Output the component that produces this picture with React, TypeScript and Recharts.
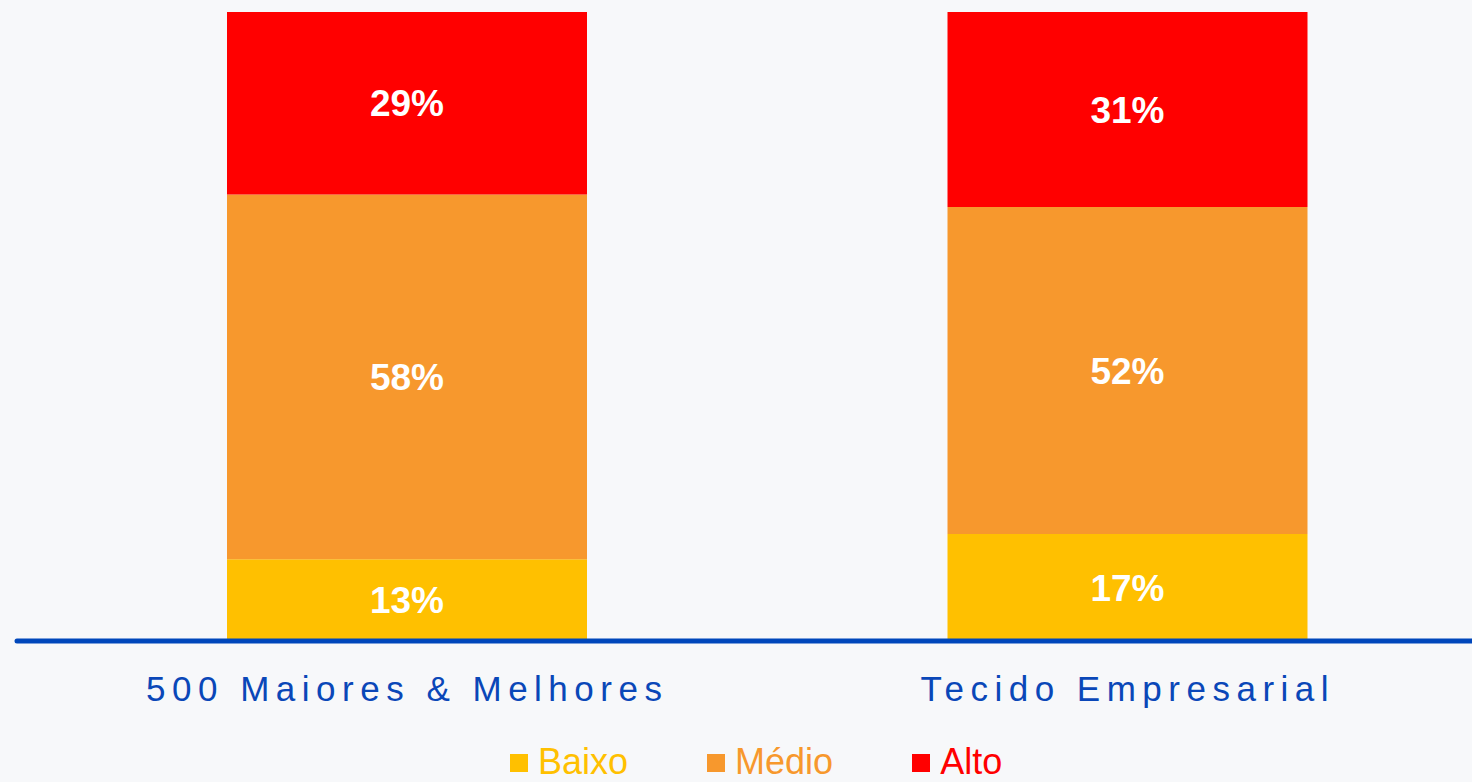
import { BarChart, Bar, XAxis, YAxis, LabelList, Legend } from 'recharts'

const categories = ['500 Maiores & Melhores', 'Tecido Empresarial']
const baixo = [13, 17]
const medio = [58, 52]
const alto = [29, 31]
const seriesNames = ['Baixo', 'Médio', 'Alto']

const data = categories.map((name, i) => ({
  name,
  baixo: baixo[i],
  medio: medio[i],
  alto: alto[i],
}))

const FONT = '"Liberation Sans", Arial, sans-serif'
const BLUE = '#0a47b8'
const BG = '#f7f8fa'

if (typeof document !== 'undefined') {
  document.body.style.margin = '0'
  document.body.style.background = BG
}

function CatTick(props: any) {
  const { x, y, payload } = props
  return (
    <text
      x={x}
      y={y}
      dy={52}
      textAnchor="middle"
      fill={BLUE}
      fontSize={35}
      letterSpacing={6.5}
      fontFamily={FONT}
    >
      {payload.value}
    </text>
  )
}

function LegendBox(props: any) {
  const items = [...(props.payload || [])].sort(
    (a: any, b: any) => seriesNames.indexOf(a.value) - seriesNames.indexOf(b.value)
  )
  return (
    <div style={{ display: 'flex', alignItems: 'center', fontFamily: FONT }}>
      {items.map((it: any, i: number) => (
        <div
          key={i}
          style={{ display: 'flex', alignItems: 'center', marginRight: i < items.length - 1 ? 79 : 0 }}
        >
          <span style={{ width: 18, height: 18, background: it.color, marginRight: 10, marginTop: 2 }} />
          <span style={{ color: it.color, fontSize: 36, lineHeight: '36px' }}>{it.value}</span>
        </div>
      ))}
    </div>
  )
}

const pctLabel = { fill: '#fff', fontSize: 37, fontWeight: 700, fontFamily: FONT }

export default function App() {
  return (
    <div style={{ width: 1472, height: 782, overflow: 'hidden', background: BG, position: 'relative' }}>
      <BarChart
        width={1490}
        height={800}
        data={data}
        margin={{ top: 12, right: 2, bottom: 129, left: 17 }}
      >
        <YAxis hide domain={[0, 100]} />
        <XAxis
          dataKey="name"
          axisLine={{ stroke: '#0047bb', strokeWidth: 5, strokeLinecap: 'round' }}
          tickLine={false}
          tick={<CatTick />}
          padding={{ left: 30, right: 0 }}
          interval={0}
        />
        <Legend
          layout="horizontal"
          verticalAlign="middle"
          align="center"
          wrapperStyle={{ top: 744, left: 510, width: 'auto' }}
          content={<LegendBox />}
        />
        <Bar dataKey="baixo" name="Baixo" stackId="a" fill="#ffc000" barSize={360} isAnimationActive={false}>
          <LabelList dataKey="baixo" position="center" formatter={(v: any) => `${v}%`} style={pctLabel} />
        </Bar>
        <Bar dataKey="medio" name="Médio" stackId="a" fill="#f7982d" barSize={360} isAnimationActive={false}>
          <LabelList dataKey="medio" position="center" formatter={(v: any) => `${v}%`} style={pctLabel} />
        </Bar>
        <Bar dataKey="alto" name="Alto" stackId="a" fill="#ff0000" barSize={360} isAnimationActive={false}>
          <LabelList dataKey="alto" position="center" formatter={(v: any) => `${v}%`} style={pctLabel} />
        </Bar>
      </BarChart>
    </div>
  )
}
